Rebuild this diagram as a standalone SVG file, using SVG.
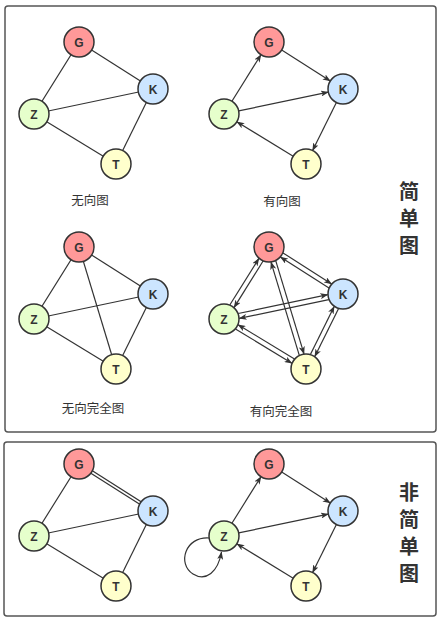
<svg xmlns="http://www.w3.org/2000/svg" width="443" height="622" viewBox="0 0 443 622">
<style>
.panel{fill:#fff;stroke:#555;stroke-width:1.5}
.e{stroke:#333;stroke-width:1.2;fill:none}
.a{stroke:#333;stroke-width:1.2;fill:none;marker-end:url(#arr)}
circle{stroke:#333;stroke-width:1.5}
.G{fill:#ff9999}.K{fill:#cce5ff}.Z{fill:#e6ffcc}.T{fill:#ffffcc}
.nl{font-family:"Liberation Sans",Arial,sans-serif;font-size:12px;font-weight:bold;fill:#333;text-anchor:middle}
.lb{font-family:"Noto Sans CJK SC",sans-serif;font-size:12.5px;fill:#333;text-anchor:middle}
.tt{font-family:"Noto Sans CJK SC",sans-serif;font-size:20px;font-weight:bold;fill:#333;text-anchor:middle}
</style>
<defs>
<marker id="arr" markerUnits="userSpaceOnUse" markerWidth="8" markerHeight="6" viewBox="0 0 8 6" refX="7.5" refY="3" orient="auto">
<path d="M0,0 L8,3 L0,6 L2,3 Z" fill="#333"/>
</marker>
</defs>
<rect width="443" height="622" fill="#fff"/>
<rect class="panel" x="5" y="6" width="431" height="426" rx="3"/>
<rect class="panel" x="4" y="442" width="432" height="174" rx="3"/>

<g id="connectors">
<g transform="translate(79,42)">
<line class="e" x1="0" y1="0" x2="-45" y2="72"/>
<line class="e" x1="0" y1="0" x2="74" y2="47"/>
<line class="e" x1="-45" y1="72" x2="74" y2="47"/>
<line class="e" x1="-45" y1="72" x2="37" y2="122"/>
<line class="e" x1="74" y1="47" x2="37" y2="122"/>
</g>
<g transform="translate(269,42)">
<line class="a" x1="-37.1" y1="59.3" x2="-8" y2="12.7"/>
<line class="a" x1="12.7" y1="8" x2="61.3" y2="39"/>
<line class="a" x1="-30.3" y1="68.9" x2="59.3" y2="50.1"/>
<line class="a" x1="67.4" y1="60.5" x2="43.6" y2="108.5"/>
<line class="a" x1="24.2" y1="114.2" x2="-32.2" y2="79.8"/>
</g>
<g transform="translate(79,247)">
<line class="e" x1="0" y1="0" x2="-45" y2="72"/>
<line class="e" x1="0" y1="0" x2="74" y2="47"/>
<line class="e" x1="-45" y1="72" x2="74" y2="47"/>
<line class="e" x1="-45" y1="72" x2="37" y2="122"/>
<line class="e" x1="74" y1="47" x2="37" y2="122"/>
<line class="e" x1="0" y1="0" x2="37" y2="122"/>
</g>
<g transform="translate(269,247)">
<line class="a" x1="-39.2" y1="58" x2="-10.1" y2="11.4"/>
<line class="a" x1="-5.9" y1="14" x2="-35" y2="60.6"/>
<line class="a" x1="14" y1="5.9" x2="62.6" y2="36.9"/>
<line class="a" x1="60" y1="41.1" x2="11.4" y2="10.1"/>
<line class="a" x1="-30.8" y1="66.5" x2="58.8" y2="47.7"/>
<line class="a" x1="59.8" y1="52.6" x2="-29.8" y2="71.4"/>
<line class="a" x1="69.6" y1="61.6" x2="45.8" y2="109.6"/>
<line class="a" x1="41.4" y1="107.4" x2="65.2" y2="59.4"/>
<line class="a" x1="6.7" y1="13.6" x2="35" y2="106.9"/>
<line class="a" x1="30.3" y1="108.4" x2="2" y2="15.1"/>
<line class="a" x1="-33.5" y1="81.9" x2="22.9" y2="116.3"/>
<line class="a" x1="25.5" y1="112.1" x2="-30.9" y2="77.7"/>
</g>
<g transform="translate(79,464)">
<line class="e" x1="0" y1="0" x2="-45" y2="72"/>
<line class="e" x1="-0.75" y1="1.18" x2="73.25" y2="48.18"/>
<line class="e" x1="0.75" y1="-1.18" x2="74.75" y2="45.82"/>
<line class="e" x1="-45" y1="72" x2="74" y2="47"/>
<line class="e" x1="-45" y1="72" x2="37" y2="122"/>
<line class="e" x1="74" y1="47" x2="37" y2="122"/>
</g>
<g transform="translate(269,464)">
<line class="a" x1="-37.1" y1="59.3" x2="-8" y2="12.7"/>
<line class="a" x1="12.7" y1="8" x2="61.3" y2="39"/>
<line class="a" x1="-30.3" y1="68.9" x2="59.3" y2="50.1"/>
<line class="a" x1="67.4" y1="60.5" x2="43.6" y2="108.5"/>
<line class="a" x1="24.2" y1="114.2" x2="-32.2" y2="79.8"/>
<path class="a" d="M-59.5,74 C-84,72 -92,100 -76,110 C-63,118 -51,108 -47.5,88"/>
</g>
</g>

<g id="graph1" transform="translate(79,42)">
<g id="g1-G"><circle class="G" r="15"/><text class="nl" y="4.5">G</text></g>
<g id="g1-K" transform="translate(74,47)"><circle class="K" r="15"/><text class="nl" y="4.5">K</text></g>
<g id="g1-Z" transform="translate(-45,72)"><circle class="Z" r="15"/><text class="nl" y="4.5">Z</text></g>
<g id="g1-T" transform="translate(37,122)"><circle class="T" r="15"/><text class="nl" y="4.5">T</text></g>
</g>
<g id="graph2" transform="translate(269,42)">
<g id="g2-G"><circle class="G" r="15"/><text class="nl" y="4.5">G</text></g>
<g id="g2-K" transform="translate(74,47)"><circle class="K" r="15"/><text class="nl" y="4.5">K</text></g>
<g id="g2-Z" transform="translate(-45,72)"><circle class="Z" r="15"/><text class="nl" y="4.5">Z</text></g>
<g id="g2-T" transform="translate(37,122)"><circle class="T" r="15"/><text class="nl" y="4.5">T</text></g>
</g>
<g id="graph3" transform="translate(79,247)">
<g id="g3-G"><circle class="G" r="15"/><text class="nl" y="4.5">G</text></g>
<g id="g3-K" transform="translate(74,47)"><circle class="K" r="15"/><text class="nl" y="4.5">K</text></g>
<g id="g3-Z" transform="translate(-45,72)"><circle class="Z" r="15"/><text class="nl" y="4.5">Z</text></g>
<g id="g3-T" transform="translate(37,122)"><circle class="T" r="15"/><text class="nl" y="4.5">T</text></g>
</g>
<g id="graph4" transform="translate(269,247)">
<g id="g4-G"><circle class="G" r="15"/><text class="nl" y="4.5">G</text></g>
<g id="g4-K" transform="translate(74,47)"><circle class="K" r="15"/><text class="nl" y="4.5">K</text></g>
<g id="g4-Z" transform="translate(-45,72)"><circle class="Z" r="15"/><text class="nl" y="4.5">Z</text></g>
<g id="g4-T" transform="translate(37,122)"><circle class="T" r="15"/><text class="nl" y="4.5">T</text></g>
</g>
<g id="graph5" transform="translate(79,464)">
<g id="g5-G"><circle class="G" r="15"/><text class="nl" y="4.5">G</text></g>
<g id="g5-K" transform="translate(74,47)"><circle class="K" r="15"/><text class="nl" y="4.5">K</text></g>
<g id="g5-Z" transform="translate(-45,72)"><circle class="Z" r="15"/><text class="nl" y="4.5">Z</text></g>
<g id="g5-T" transform="translate(37,122)"><circle class="T" r="15"/><text class="nl" y="4.5">T</text></g>
</g>
<g id="graph6" transform="translate(269,464)">
<g id="g6-G"><circle class="G" r="15"/><text class="nl" y="4.5">G</text></g>
<g id="g6-K" transform="translate(74,47)"><circle class="K" r="15"/><text class="nl" y="4.5">K</text></g>
<g id="g6-Z" transform="translate(-45,72)"><circle class="Z" r="15"/><text class="nl" y="4.5">Z</text></g>
<g id="g6-T" transform="translate(37,122)"><circle class="T" r="15"/><text class="nl" y="4.5">T</text></g>
</g>

<g id="labels">
<text class="lb" x="90" y="205">无向图</text>
<text class="lb" x="282" y="206">有向图</text>
<text class="lb" x="93" y="413">无向完全图</text>
<text class="lb" x="281" y="416">有向完全图</text>
<text class="tt" x="409" y="199">简</text>
<text class="tt" x="409" y="226">单</text>
<text class="tt" x="409" y="253">图</text>
<text class="tt" x="409" y="500">非</text>
<text class="tt" x="409" y="527">简</text>
<text class="tt" x="409" y="554">单</text>
<text class="tt" x="409" y="581">图</text>
</g>
</svg>
